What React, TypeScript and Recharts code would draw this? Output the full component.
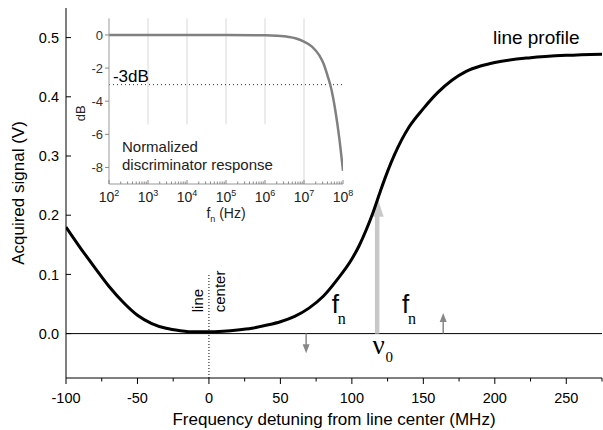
import React from 'react';
import { LineChart, Line, XAxis, YAxis, ReferenceLine, ReferenceDot } from 'recharts';

const SANS = '"Liberation Sans", Arial, Helvetica, sans-serif';
const SERIF = '"Liberation Serif", "Times New Roman", serif';

// Main chart: line profile
const detuning = [-100, -90, -80, -70, -60, -50, -40, -30, -20, -10, 0, 10, 20, 30, 40, 50, 60, 70, 80, 90, 100, 105, 110, 115, 120, 125, 130, 135, 140, 150, 160, 170, 180, 190, 200, 225, 250, 275];
const signal = [0.18, 0.145, 0.112, 0.08, 0.053, 0.031, 0.017, 0.009, 0.005, 0.003, 0.003, 0.004, 0.006, 0.009, 0.014, 0.02, 0.029, 0.043, 0.063, 0.092, 0.126, 0.148, 0.175, 0.206, 0.241, 0.274, 0.303, 0.328, 0.349, 0.38, 0.407, 0.428, 0.443, 0.452, 0.458, 0.466, 0.47, 0.472];
const xTicks = [-100, -75, -50, -25, 0, 25, 50, 75, 100, 125, 150, 175, 200, 225, 250, 275];
const xLabelTicks = [-100, -50, 0, 50, 100, 150, 200, 250];
const yTicks = [0, 0.1, 0.2, 0.3, 0.4, 0.5];

// Inset: normalized discriminator response
const respFreq = [100, 1000, 10000, 100000, 1000000, 2000000, 4000000, 6000000, 10000000, 16000000, 25000000, 32000000, 40000000, 50000000, 63000000, 80000000, 100000000];
const respDb = [0, 0, 0, 0, -0.02, -0.05, -0.12, -0.2, -0.4, -0.7, -1.25, -1.75, -2.45, -3.25, -4.5, -6.2, -8.2];
const insetMajor = [1e2, 1e3, 1e4, 1e5, 1e6, 1e7, 1e8];
const insetExp = ['2', '3', '4', '5', '6', '7', '8'];
const minorMult = [2, 3, 4, 5, 6, 7, 8, 9];
const insetMinor = insetMajor.slice(0, 6).flatMap((d) => minorMult.map((m) => d * m));
const insetTicks = [...insetMajor, ...insetMinor];
const insetYTicks = [0, -2, -4, -6, -8];
const gridDecades = [1e3, 1e4, 1e5, 1e6];

const mainData = detuning.map((f, i) => ({ f, s: signal[i] }));
const insetData = respFreq.map((f, i) => ({ f, db: respDb[i] }));

const BottomTick = (p: any) => {
  const v = p.payload.value;
  const major = xLabelTicks.includes(v);
  return (
    <g>
      <line x1={p.x} x2={p.x} y1={p.y} y2={p.y + (major ? 6 : 3.5)} stroke="#000" />
      {major && (
        <text x={p.x} y={p.y + 25} textAnchor="middle" fontSize={14.5} fontFamily={SANS} fill="#000">
          {v}
        </text>
      )}
    </g>
  );
};
const TopTick = (p: any) => {
  const major = xLabelTicks.includes(p.payload.value);
  return <line x1={p.x} x2={p.x} y1={p.y} y2={p.y + (major ? 6 : 3)} stroke="#000" />;
};
const LeftTick = (p: any) => (
  <g>
    <line x1={p.x} x2={p.x + 5} y1={p.y} y2={p.y} stroke="#000" />
    <text x={p.x - 7} y={p.y} dy="0.36em" textAnchor="end" fontSize={14.5} fontFamily={SANS} fill="#000">
      {p.payload.value.toFixed(1)}
    </text>
  </g>
);
const RightTick = (p: any) => <line x1={p.x} x2={p.x - 5} y1={p.y} y2={p.y} stroke="#000" />;

const InsetBottomTick = (p: any) => {
  const v = p.payload.value;
  const idx = insetMajor.indexOf(v);
  const major = idx >= 0;
  return (
    <g>
      <line x1={p.x} x2={p.x} y1={p.y} y2={p.y - (major ? 4 : 2.5)} stroke="#888" />
      {major && (
        <text x={p.x} y={p.y + 18} textAnchor="middle" fontSize={14} fontFamily={SANS} fill="#222">
          10
          <tspan fontSize={9} dy={-6}>
            {insetExp[idx]}
          </tspan>
        </text>
      )}
    </g>
  );
};
const InsetLeftTick = (p: any) => (
  <g>
    <line x1={p.x} x2={p.x - 4} y1={p.y} y2={p.y} stroke="#888" />
    <text x={p.x - 6} y={p.y} dy="0.36em" textAnchor="end" fontSize={13} fontFamily={SANS} fill="#333">
      {p.payload.value}
    </text>
  </g>
);

const bigArrow = (p: any) => {
  const { x1, y1, x2, y2 } = p;
  return (
    <g>
      <line x1={x1} y1={y1} x2={x2} y2={y2 + 16} stroke="#c8c8c8" strokeWidth={4.5} />
      <polygon points={`${x2},${y2} ${x2 - 6.5},${y2 + 20} ${x2 + 6.5},${y2 + 20}`} fill="#c8c8c8" />
    </g>
  );
};
const smallArrow = (p: any) => {
  const { x1, y1, x2, y2 } = p;
  const d = y2 > y1 ? 1 : -1;
  return (
    <g>
      <line x1={x1} y1={y1} x2={x2} y2={y2 - d * 6} stroke="#888" strokeWidth={1.5} />
      <polygon points={`${x2},${y2} ${x2 - 3.5},${y2 - d * 9} ${x2 + 3.5},${y2 - d * 9}`} fill="#888" />
    </g>
  );
};

const fnLabel = (p: any) => (
  <g>
    <text x={p.cx} y={p.cy} fontSize={26} fontFamily={SANS} fill="#000">f</text>
    <text x={p.cx + 6} y={p.cy + 11} fontSize={16} fontFamily={SERIF} fill="#000">n</text>
  </g>
);
const nuLabel = (p: any) => (
  <g>
    <text x={p.cx} y={p.cy} fontSize={27} fontFamily={SERIF} fill="#000">ν</text>
    <text x={p.cx + 13} y={p.cy + 8} fontSize={15} fontFamily={SERIF} fill="#000">0</text>
  </g>
);
const lineCenterLabel = (p: any) => (
  <g fontSize={15} fontFamily={SANS} fill="#000">
    <text transform={`translate(${p.cx - 6},${p.cy}) rotate(-90)`}>line</text>
    <text transform={`translate(${p.cx + 16},${p.cy}) rotate(-90)`}>center</text>
  </g>
);
const profileLabel = (p: any) => (
  <text x={p.cx} y={p.cy} textAnchor="middle" fontSize={19} fontFamily={SANS} fill="#000">
    line profile
  </text>
);
const minus3Label = (p: any) => (
  <text x={p.cx} y={p.cy} fontSize={17} fontFamily={SANS} fill="#000">-3dB</text>
);
const normLabel = (p: any) => (
  <g fontSize={15} fontFamily={SANS} fill="#222">
    <text x={p.cx} y={p.cy}>Normalized</text>
    <text x={p.cx} y={p.cy + 18}>discriminator response</text>
  </g>
);

const XTitle = (p: any) => {
  const vb = p.viewBox;
  return (
    <text x={vb.x + vb.width / 2} y={vb.y + 47} textAnchor="middle" fontSize={17} fontFamily={SANS} fill="#000">
      Frequency detuning from line center (MHz)
    </text>
  );
};
const YTitle = (p: any) => {
  const vb = p.viewBox;
  return (
    <text transform={`translate(${vb.x + 24},${vb.y + vb.height / 2}) rotate(-90)`} textAnchor="middle" fontSize={17} fontFamily={SANS} fill="#000">
      Acquired signal (V)
    </text>
  );
};
const InsetXTitle = (p: any) => {
  const vb = p.viewBox;
  return (
    <text x={vb.x + vb.width / 2} y={vb.y + 34} textAnchor="middle" fontSize={14} fontFamily={SANS} fill="#222">
      f<tspan fontSize={9} dy={4}>n</tspan>
      <tspan dy={-4}> (Hz)</tspan>
    </text>
  );
};
const InsetYTitle = (p: any) => {
  const vb = p.viewBox;
  return (
    <text transform={`translate(${vb.x + 15},${vb.y + vb.height / 2 + 12}) rotate(-90)`} textAnchor="middle" fontSize={13} fontFamily={SANS} fill="#222">
      dB
    </text>
  );
};

export default function App() {
  const yDom: [number, number] = [-0.075, 0.55];
  const xDom: [number, number] = [-100, 275];
  return (
    <div style={{ position: 'absolute', left: 0, top: 0, width: 603, height: 430, background: '#fff' }}>
      <div style={{ position: 'absolute', left: 0, top: 0 }}>
        <LineChart width={603} height={430} data={mainData} margin={{ top: 8, right: 1, bottom: 0, left: 0 }}>
          <XAxis dataKey="f" type="number" domain={xDom} ticks={xTicks} interval={0} height={52}
            tickSize={0} tickMargin={0} tickLine={false} tick={<BottomTick />} stroke="#000" allowDataOverflow label={<XTitle />} />
          <XAxis xAxisId="top" orientation="top" dataKey="f" type="number" domain={xDom} ticks={xTicks} interval={0} height={0}
            tickSize={0} tickMargin={0} tickLine={false} tick={<TopTick />} stroke="#000" allowDataOverflow />
          <YAxis type="number" domain={yDom} ticks={yTicks} interval={0} width={66}
            tickSize={0} tickMargin={0} tickLine={false} tick={<LeftTick />} stroke="#000" allowDataOverflow label={<YTitle />} />
          <YAxis yAxisId="right" orientation="right" type="number" domain={yDom} ticks={yTicks} interval={0} width={0}
            tickSize={0} tickMargin={0} tickLine={false} tick={<RightTick />} stroke="#000" allowDataOverflow />
          <ReferenceLine y={0} stroke="#000" strokeWidth={1} />
          <ReferenceLine segment={[{ x: 0, y: -0.075 }, { x: 0, y: 0.1 }]} stroke="#000" strokeDasharray="1 2" ifOverflow="extendDomain" />
          <ReferenceLine segment={[{ x: 117.7, y: 0 }, { x: 117.7, y: 0.231 }]} shape={bigArrow} />
          <ReferenceLine segment={[{ x: 68, y: 0 }, { x: 68, y: -0.033 }]} shape={smallArrow} />
          <ReferenceLine segment={[{ x: 163.9, y: 0 }, { x: 163.9, y: 0.035 }]} shape={smallArrow} />
          <Line dataKey="s" type="monotone" stroke="#000" strokeWidth={3} dot={false} isAnimationActive={false} />
          <ReferenceDot x={86} y={0.035} r={0} shape={fnLabel} />
          <ReferenceDot x={135} y={0.035} r={0} shape={fnLabel} />
          <ReferenceDot x={114.5} y={-0.035} r={0} shape={nuLabel} />
          <ReferenceDot x={0} y={0.036} r={0} shape={lineCenterLabel} />
          <ReferenceDot x={229} y={0.489} r={0} shape={profileLabel} />
        </LineChart>
      </div>
      <div style={{ position: 'absolute', left: 70, top: 10 }}>
        <LineChart width={290} height={215} data={insetData} margin={{ top: 8.4, right: 17, bottom: 0, left: 0 }}>
          <XAxis dataKey="f" type="number" scale="log" domain={[100, 100000000]} ticks={insetTicks} interval={0} height={41}
            tickSize={0} tickMargin={0} tickLine={false} tick={<InsetBottomTick />} stroke="#999" allowDataOverflow label={<InsetXTitle />} />
          <XAxis xAxisId="t" orientation="top" dataKey="f" type="number" scale="log" domain={[100, 100000000]} height={0}
            tick={false} tickLine={false} stroke="#999" allowDataOverflow />
          <YAxis type="number" domain={[-9, 1]} ticks={insetYTicks} interval={0} width={39}
            tickSize={0} tickMargin={0} tickLine={false} tick={<InsetLeftTick />} stroke="#999" allowDataOverflow label={<InsetYTitle />} />
          <YAxis yAxisId="r" orientation="right" type="number" domain={[-9, 1]} width={0}
            tick={false} tickLine={false} stroke="#999" allowDataOverflow />
          {gridDecades.map((g) => (
            <ReferenceLine key={g} segment={[{ x: g, y: -5.4 }, { x: g, y: 1 }]} stroke="#d8d8d8" />
          ))}
          <ReferenceLine x={10000000} stroke="#d8d8d8" />
          <ReferenceLine y={-3} stroke="#333" strokeDasharray="1 3" />
          <Line dataKey="db" type="monotone" stroke="#808080" strokeWidth={2.5} dot={false} isAnimationActive={false} />
          <ReferenceDot x={126} y={-2.83} r={0} shape={minus3Label} />
          <ReferenceDot x={215} y={-7.04} r={0} shape={normLabel} />
        </LineChart>
      </div>
    </div>
  );
}
